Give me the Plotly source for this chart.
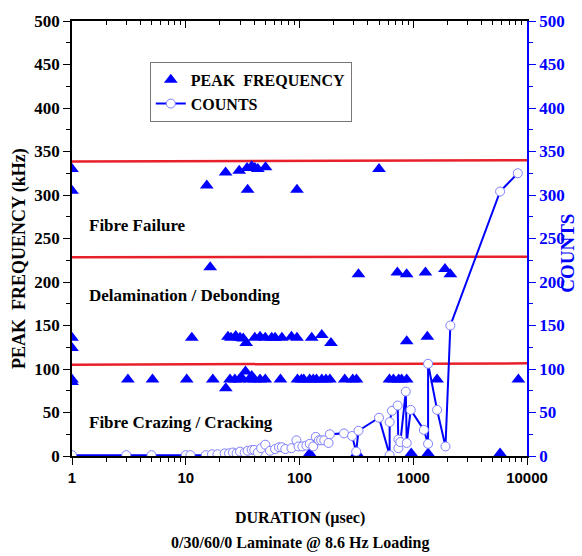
import plotly.graph_objects as go

# ---- data ----
pf_duration = [1, 1, 15.3, 22.4, 29.5, 34.6, 38, 40.5, 43, 50.3, 35, 95, 500,
               16.4, 330, 725, 875, 1280, 1900, 2120,
               1, 1, 11.3, 23.5, 25, 27.5, 30, 32, 34, 40.5, 45, 50, 57, 61, 70, 85, 95, 128, 157, 189, 876, 1330,
               1, 1, 3.1, 5.1, 10.2, 17.3, 22.5, 24.5, 27, 29.5, 31, 33.5, 36.7, 38, 40, 45, 50, 68, 96, 104, 109,
               123, 132, 141, 157, 171, 185, 250, 294, 317, 618, 670, 745, 790, 876, 1620, 8400,
               123, 320, 960, 1350, 5800]
pf_value = [330, 305, 311, 326, 328, 331, 333, 331, 330, 332, 306, 306, 330,
            217, 209, 211, 209, 211, 215, 209,
            136, 124, 136, 137, 136, 138, 136, 135, 130, 136, 137, 136, 136, 136, 136, 137, 136, 136, 139, 130, 132, 137,
            88, 85, 88, 88, 88, 88, 78, 88, 88, 88, 90, 97, 88, 92, 88, 88, 88, 88, 88, 88, 88,
            88, 88, 88, 88, 88, 88, 88, 88, 88, 88, 88, 88, 88, 88, 88, 88,
            3, 3, 3, 3, 3]

ct_duration = [1, 3, 5, 10, 11, 15, 17, 19, 22, 24, 26, 28, 30, 33, 35, 38, 40, 43, 46, 50, 55, 61, 66, 70, 75,
               85, 94, 98, 106, 115, 123, 132, 139, 148, 155, 165, 180, 185, 246, 290, 315, 330, 500,
               620, 620, 650, 730, 740, 740, 770, 860, 876, 950, 1240, 1350, 1350, 1620, 1920, 2120, 5800, 8300]
ct_value = [1, 1, 1, 1, 1, 1, 2, 2, 3, 3, 4, 3, 5, 4, 6, 7, 7, 4, 9, 13, 6, 8, 10, 10, 8,
            9, 18, 11, 11, 12, 14, 11, 22, 18, 18, 18, 15, 25, 26, 23, 5, 29, 44,
            1, 39, 52, 58, 9, 19, 16, 74, 15, 53, 30, 14, 106, 53, 11, 150, 304, 325]

bound_x = [1, 10000]
bound_fibre_failure = [338.5, 340]
bound_delamination = [228.5, 229]
bound_crazing = [105, 106.5]

region_labels = ["Fibre Failure", "Delamination / Debonding", "Fibre Crazing / Cracking"]
region_label_y = [265, 184, 38]

x_tickvals = [1, 10, 100, 1000, 10000]
x_ticktext = ["1", "10", "100", "1000", "10000"]
x_minor = [m * d for d in [1, 10, 100, 1000] for m in range(2, 10)]
y_tickvals = list(range(0, 501, 50))
y_ticktext = [str(v) for v in y_tickvals]

SERIF = "Liberation Serif"
BLUE = "#0000ff"
RED = "#e8202a"

fig = go.Figure()

for yy in [bound_fibre_failure, bound_delamination, bound_crazing]:
    fig.add_trace(go.Scatter(x=bound_x, y=yy, mode="lines", line=dict(color=RED, width=2.5),
                             showlegend=False, hoverinfo="skip"))

fig.add_trace(go.Scatter(x=pf_duration, y=pf_value, mode="markers", name="<b>PEAK  FREQUENCY</b>",
                         marker=dict(symbol="triangle-up", size=12, color=BLUE)))

fig.add_trace(go.Scatter(x=ct_duration, y=ct_value, mode="lines+markers", name="<b>COUNTS</b>",
                         yaxis="y2", line=dict(color=BLUE, width=2),
                         marker=dict(symbol="circle", size=9, color="white",
                                     line=dict(color="#8080ff", width=1))))

# dummy trace for top mirrored axis with inward ticks
fig.add_trace(go.Scatter(x=[1], y=[None], xaxis="x2", showlegend=False, hoverinfo="skip"))

for txt, yv in zip(region_labels, region_label_y):
    fig.add_annotation(x=0.132, y=yv, xref="x", yref="y", text="<b>" + txt + "</b>", showarrow=False,
                       xanchor="left", yanchor="middle", font=dict(family=SERIF, size=17, color="black"))

fig.add_annotation(x=-0.114, y=0.453, xref="paper", yref="paper", text="<b>PEAK  FREQUENCY (kHz)</b>",
                   textangle=-90, showarrow=False, xanchor="center", yanchor="middle",
                   font=dict(family=SERIF, size=18, color="black"))
fig.add_annotation(x=1.09, y=0.467, xref="paper", yref="paper", text="<b>COUNTS</b>",
                   textangle=-90, showarrow=False, xanchor="center", yanchor="middle",
                   font=dict(family=SERIF, size=19, color=BLUE))
fig.add_annotation(x=0.501, y=-0.1425, xref="paper", yref="paper", text="<b>DURATION (µsec)</b>",
                   showarrow=False, xanchor="center", yanchor="middle",
                   font=dict(family=SERIF, size=16, color="black"))
fig.add_annotation(x=0.501, y=-0.2, xref="paper", yref="paper",
                   text="<b>0/30/60/0 Laminate @ 8.6 Hz Loading</b>",
                   showarrow=False, xanchor="center", yanchor="middle",
                   font=dict(family=SERIF, size=16, color="black"))

fig.update_layout(
    width=582, height=556,
    margin=dict(l=72, r=55, t=21, b=100),
    paper_bgcolor="white", plot_bgcolor="white",
    showlegend=True,
    legend=dict(x=0.171, y=0.906, xanchor="left", yanchor="top", bgcolor="rgba(255,255,255,0)",
                bordercolor="#777777", borderwidth=1, font=dict(family=SERIF, size=16, color="black"),
                tracegroupgap=0, itemwidth=30),
    xaxis=dict(type="log", range=[0, 4], showgrid=False, zeroline=False,
               showline=True, linecolor="black", linewidth=1.5,
               tickmode="array", tickvals=x_tickvals, ticktext=["<b>" + t + "</b>" for t in x_ticktext],
               ticks="outside", ticklen=7, tickwidth=1.2, tickcolor="black",
               minor=dict(tickmode="array", tickvals=x_minor, ticks="outside", ticklen=4,
                          tickcolor="black", showgrid=False),
               tickfont=dict(family="Liberation Sans", size=15, color="black"),
               title=None),
    xaxis2=dict(type="log", range=[0, 4], overlaying="x", side="top", showgrid=False, zeroline=False,
                showline=True, linecolor="black", linewidth=1.5,
                tickmode="array", tickvals=x_tickvals, ticks="inside", ticklen=7, tickcolor="black",
                showticklabels=False,
                minor=dict(tickmode="array", tickvals=x_minor, ticks="inside", ticklen=4,
                           tickcolor="black", showgrid=False)),
    yaxis=dict(range=[0, 500], showgrid=False, zeroline=False,
               showline=True, linecolor="black", linewidth=1.5,
               tickmode="array", tickvals=y_tickvals, ticktext=["<b>" + t + "</b>" for t in y_ticktext],
               ticks="outside", ticklen=7, tickwidth=1.2, tickcolor="black",
               minor=dict(dtick=25, ticks="outside", ticklen=4, tickcolor="black", showgrid=False),
               tickfont=dict(family=SERIF, size=17, color="black")),
    yaxis2=dict(range=[0, 500], overlaying="y", side="right", showgrid=False, zeroline=False,
                showline=True, linecolor=BLUE, linewidth=1.5,
                tickmode="array", tickvals=y_tickvals, ticktext=["<b>" + t + "</b>" for t in y_ticktext],
                ticks="outside", ticklen=7, tickwidth=1.2, tickcolor=BLUE,
                minor=dict(dtick=25, ticks="outside", ticklen=4, tickcolor=BLUE, showgrid=False),
                tickfont=dict(family=SERIF, size=17, color=BLUE)),
)

fig.write_html("out.html")
